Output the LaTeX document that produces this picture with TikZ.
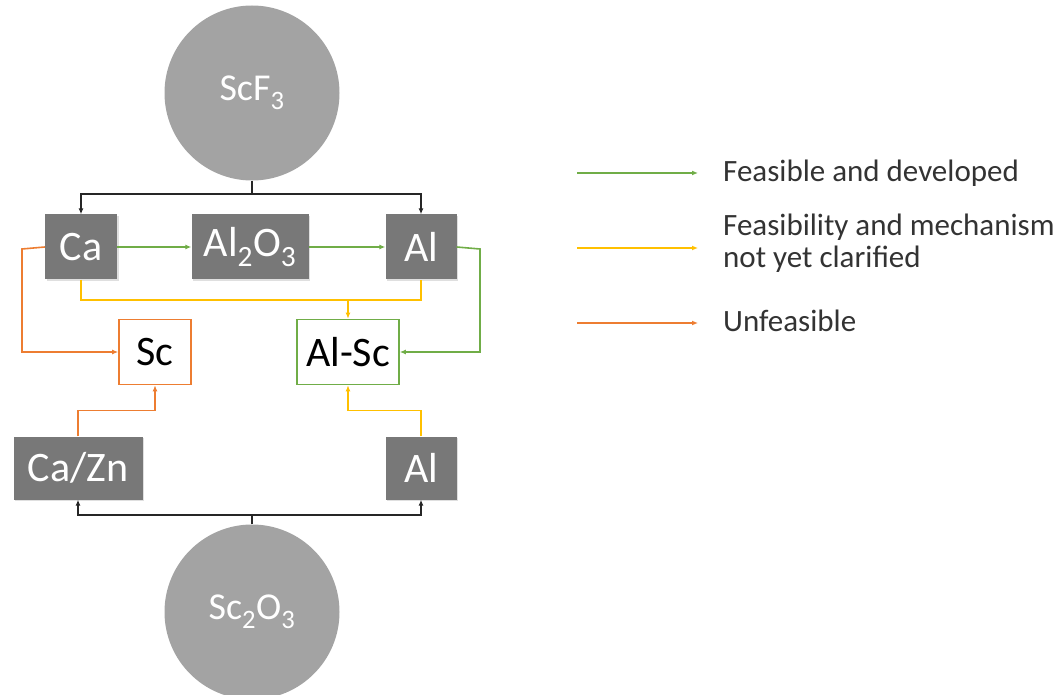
\documentclass[tikz,border=0pt]{standalone}
\usepackage{fontspec}
\setmainfont{Carlito}
\usetikzlibrary{arrows.meta,shadows}
\definecolor{boxgray}{HTML}{787878}
\definecolor{circfill}{HTML}{A3A3A3}
\definecolor{cgreen}{HTML}{70AD47}
\definecolor{cyellow}{HTML}{FFC000}
\definecolor{corange}{HTML}{ED7D31}
\tikzset{
  darkbox/.style={rectangle, fill=boxgray, text=white, inner sep=0pt,
    minimum height=65pt, font=\fontsize{42}{44}\selectfont,
    drop shadow={shadow xshift=1.5pt, shadow yshift=-1.5pt, opacity=0.25}},
  whitebox/.style={rectangle, fill=white, draw, line width=1.6pt, text=black, inner sep=0pt,
    minimum height=65pt, font=\fontsize{42}{44}\selectfont},
  bigcirc/.style={circle, fill=circfill, draw=none, text=white,
    minimum size=175pt, inner sep=0pt, font=\fontsize{38}{40}\selectfont},
  conn/.style={line width=1.6pt},
  tip/.style={-{Latex[length=6pt,width=5pt]}},
  gline/.style={conn, draw=cgreen},
  yline/.style={conn, draw=cyellow},
  oline/.style={conn, draw=corange},
  kline/.style={conn, draw=black!85},
  legtext/.style={anchor=west, align=left, text=black!80, font=\fontsize{31}{32}\selectfont, inner sep=0pt}
}
\begin{document}
\begin{tikzpicture}[x=1pt,y=-1pt]
\useasboundingbox (0,0) rectangle (1061,695);
% nodes
\node[bigcirc] (scf) at (252,93) {ScF\textsubscript{3}};
\node[bigcirc] (sco) at (252,612) {Sc\textsubscript{2}O\textsubscript{3}};
\node[darkbox, minimum width=72pt] (ca) at (81,247) {Ca};
\node[darkbox, minimum width=117pt] (alo) at (250,247) {Al\textsubscript{2}O\textsubscript{3}};
\node[darkbox, minimum width=71pt] (al) at (421,247) {Al};
\node[whitebox, draw=corange, minimum width=72pt] (sc) at (155,352) {Sc};
\node[whitebox, draw=cgreen, minimum width=102pt] (alsc) at (348,352) {Al-Sc};
\node[darkbox, minimum width=129pt, minimum height=63pt] (cazn) at (78,468) {Ca/Zn};
\node[darkbox, minimum width=71pt, minimum height=63pt] (al2) at (421,468) {Al};
% junction coordinates
\coordinate (tj) at (252,194);
\coordinate (bj) at (252,515);
\coordinate (yj) at (348,300);
\coordinate (oc) at (22,249);
\coordinate (gc) at (480,249);
% black connectors
\draw[kline] (scf.south) -- (tj);
\draw[kline,tip] (tj) -| (ca.north);
\draw[kline,tip] (tj) -| (al.north);
\draw[kline] (sco.north) -- (bj);
\draw[kline,tip] (bj) -| (cazn.south);
\draw[kline,tip] (bj) -| (al2.south);
% green
\draw[gline,tip] (ca.east) -- (alo.west);
\draw[gline,tip] (alo.east) -- (al.west);
\draw[gline,tip] (al.east) -- (gc) |- (alsc.east);
% orange
\draw[oline,tip] (ca.west) -- (oc) |- (sc.west);
\draw[oline,tip] (cazn.north) -- ++(0,-26) -| (sc.south);
% yellow
\draw[yline] (ca.south) |- (yj) -| (al.south);
\draw[yline,tip] (yj) -- (alsc.north);
\draw[yline,tip] (al2.north) -- ++(0,-26) -| (alsc.south);
% legend
\coordinate (lg1) at (577,173); \coordinate (lg2) at (698,173);
\coordinate (ly1) at (577,248); \coordinate (ly2) at (698,248);
\coordinate (lo1) at (577,323); \coordinate (lo2) at (698,323);
\draw[gline,tip] (lg1) -- (lg2);
\draw[yline,tip] (ly1) -- (ly2);
\draw[oline,tip] (lo1) -- (lo2);
\node[legtext] (t1) at (723,173) {Feasible and developed};
\node[legtext] (t2) at (723,243) {Feasibility and mechanism\\not yet clarified};
\node[legtext] (t3) at (723,321) {Unfeasible};
\end{tikzpicture}
\end{document}
